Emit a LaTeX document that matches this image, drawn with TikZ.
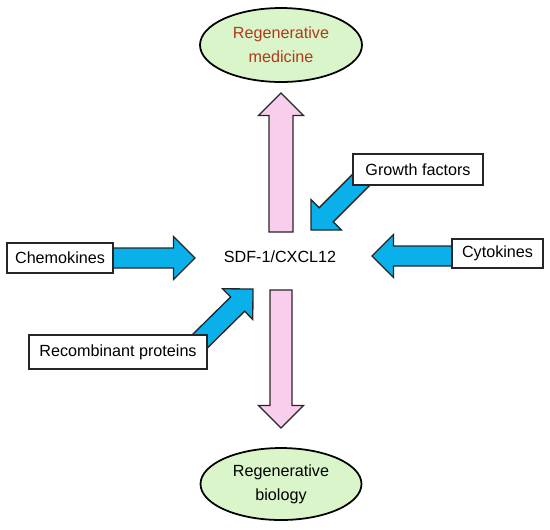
\documentclass[tikz,border=0pt]{standalone}
\usepackage{fontspec}
\setmainfont{Liberation Sans}
\usetikzlibrary{calc,shapes.geometric}
\definecolor{ablue}{HTML}{0AB0EA}
\definecolor{apink}{HTML}{F9CDEC}
\definecolor{egreen}{HTML}{D9F5C9}
\definecolor{ered}{HTML}{B23A1C}
% block arrow from #2 to tip #3, shaft half width #4, head size #5
\newcommand\fatarrow[5]{%
  \path coordinate (hb) at ($(#3)!#5!(#2)$);
  \draw[#1] ($(#2)!#4!90:(#3)$) -- ($(hb)!#4!-90:(#2)$) -- ($(hb)!#5!-90:(#2)$)
    -- (#3) -- ($(hb)!#5!90:(#2)$) -- ($(hb)!#4!90:(#2)$) -- ($(#2)!#4!-90:(#3)$) -- cycle;}
\begin{document}
\begin{tikzpicture}[x=0.02cm,y=-0.02cm,font=\fontsize{9.2}{11}\selectfont,
  box/.style={draw=black!85,line width=0.6pt,fill=white,inner sep=0pt},
  goal/.style={ellipse,draw=black,line width=1pt,fill=egreen,align=center,inner sep=0pt,
    font=\fontsize{9.2}{13.6}\selectfont},
  bluearr/.style={fill=ablue,draw=black!85,line width=0.75pt,line join=miter},
  pinkarr/.style={fill=apink,draw=black!85,line width=0.75pt,line join=miter}]
\useasboundingbox (0,0) rectangle (550,529);
% --- centre and goals ---
\node (sdf) at (280,257) {SDF-1/CXCL12};
\node[goal,minimum width=3.24cm,minimum height=1.48cm,text=ered] (med) at (281,45) {Regenerative\\medicine};
\node[goal,minimum width=3.22cm,minimum height=1.44cm] (bio) at (281,484) {Regenerative\\biology};
\coordinate (upS) at (281,232);
\coordinate (upT) at (281,93);
\coordinate (dnS) at (281,290);
\coordinate (dnT) at (281,428);
\fatarrow{pinkarr}{upS}{upT}{0.24cm}{0.45cm}
\fatarrow{pinkarr}{dnS}{dnT}{0.22cm}{0.45cm}
% --- inputs ---
\coordinate (chS) at (112,258);
\coordinate (chT) at (195,258);
\coordinate (cyS) at (453,256);
\coordinate (cyT) at (372,256);
\coordinate (gfS) at (370,171);
\coordinate (gfT) at (311,230);
\coordinate (rpS) at (190,351);
\coordinate (rpT) at (253,289);
\fatarrow{bluearr}{chS}{chT}{0.2cm}{0.43cm}
\fatarrow{bluearr}{cyS}{cyT}{0.2cm}{0.43cm}
\fatarrow{bluearr}{gfS}{gfT}{0.2cm}{0.43cm}
\fatarrow{bluearr}{rpS}{rpT}{0.2cm}{0.43cm}
\node[box,minimum width=2.12cm,minimum height=0.6cm] (chemo) at (60,258) {Chemokines};
\node[box,minimum width=2.6cm,minimum height=0.62cm] (growth) at (418,169.5) {Growth factors};
\node[box,minimum width=1.82cm,minimum height=0.58cm] (cyto) at (497.5,253.5) {Cytokines};
\node[box,minimum width=3.56cm,minimum height=0.68cm] (recomb) at (118,352) {Recombinant proteins};
\end{tikzpicture}
\end{document}
